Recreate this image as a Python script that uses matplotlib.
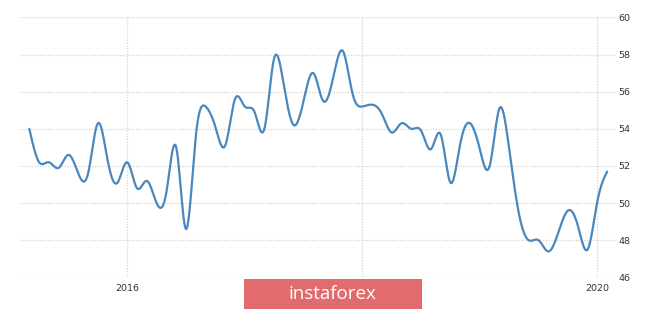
import numpy as np
import pandas as pd
from matplotlib import pyplot as plt
from matplotlib.patches import Rectangle

# monthly values, Mar 2015 .. Feb 2020
start_month = "2015-03-01"
values = [54.0, 52.2, 52.2, 51.9, 52.6, 51.6, 51.6, 54.3, 52.3, 51.1,
          52.2, 50.8, 51.2, 50.0, 50.6, 53.0, 48.6, 53.6, 55.2, 54.1,
          53.1, 55.6, 55.2, 54.9, 54.0, 57.8, 56.3, 54.2, 55.5, 57.0,
          55.5, 56.7, 58.2, 55.9, 55.2, 55.3, 54.8, 53.8, 54.3, 54.0,
          53.9, 52.9, 53.7, 51.1, 53.2, 54.3, 52.9, 52.0, 55.1, 52.9,
          49.4, 48.0, 48.0, 47.4, 48.4, 49.6, 48.8, 47.5, 50.1, 51.7]
year_ticks = ["2016-01-01", "2018-01-01", "2020-01-01"]
# 2018 label sits under the watermark in the original, so it is left blank
year_labels = ["2016", "", "2020"]
y_ticks = [46, 48, 50, 52, 54, 56, 58, 60]

LINE = "#4a87bd"
GRID = "#d4d4d4"


def smooth(x, y, steps=12):
    # natural cubic spline through the points (just for drawing the curve)
    n = len(y)
    h = np.diff(x)
    A = np.zeros((n, n))
    b = np.zeros(n)
    A[0, 0] = A[-1, -1] = 1
    for i in range(1, n - 1):
        A[i, i - 1] = h[i - 1]
        A[i, i] = 2 * (h[i - 1] + h[i])
        A[i, i + 1] = h[i]
        b[i] = 3 * ((y[i + 1] - y[i]) / h[i] - (y[i] - y[i - 1]) / h[i - 1])
    c = np.linalg.solve(A, b)
    xs, ys = [], []
    for i in range(n - 1):
        bb = (y[i + 1] - y[i]) / h[i] - h[i] * (2 * c[i] + c[i + 1]) / 3
        d = (c[i + 1] - c[i]) / (3 * h[i])
        t = np.linspace(0, h[i], steps, endpoint=False)
        xs.append(x[i] + t)
        ys.append(y[i] + bb * t + c[i] * t ** 2 + d * t ** 3)
    xs.append([x[-1]])
    ys.append([y[-1]])
    return np.concatenate(xs), np.concatenate(ys)


dates = pd.date_range(start_month, periods=len(values), freq="MS")
xnum = np.arange(len(values), dtype=float)
y = np.array(values)
sx, sy = smooth(xnum, y)

tick_pos = [dates.get_loc(pd.Timestamp(t)) for t in year_ticks]

fig = plt.figure(figsize=(6.65, 3.1), dpi=100)
ax = fig.add_axes([0.0301, 0.105, 0.8962, 0.839])

ax.plot(sx, sy, color=LINE, lw=1.6, solid_capstyle="round", zorder=3)

ax.set_ylim(46, 60)
ax.set_xlim(-0.95, 59.9)
ax.set_yticks(y_ticks)
ax.set_xticks(tick_pos)
ax.set_xticklabels(year_labels)
ax.yaxis.tick_right()
ax.tick_params(length=0, labelsize=6.8, colors="#333333")
ax.tick_params(axis="y", pad=2)
ax.tick_params(axis="x", pad=5)
ax.grid(True, color=GRID, ls=(0, (1, 1.2)), lw=0.9)
for s in ax.spines.values():
    s.set_visible(False)

# watermark box
fig.patches.append(Rectangle((244 / 665, 1 - 308.5 / 310), 177.5 / 665, 29.5 / 310,
                             transform=fig.transFigure, facecolor="#e26b6d",
                             edgecolor="none", zorder=10))
fig.text(332 / 665, 1 - 294 / 310, "instaforex", color="white", fontsize=13.5,
         family=["Open Sans", "DejaVu Sans"], ha="center", va="center", zorder=11)

fig.savefig("out.png", dpi=100)
